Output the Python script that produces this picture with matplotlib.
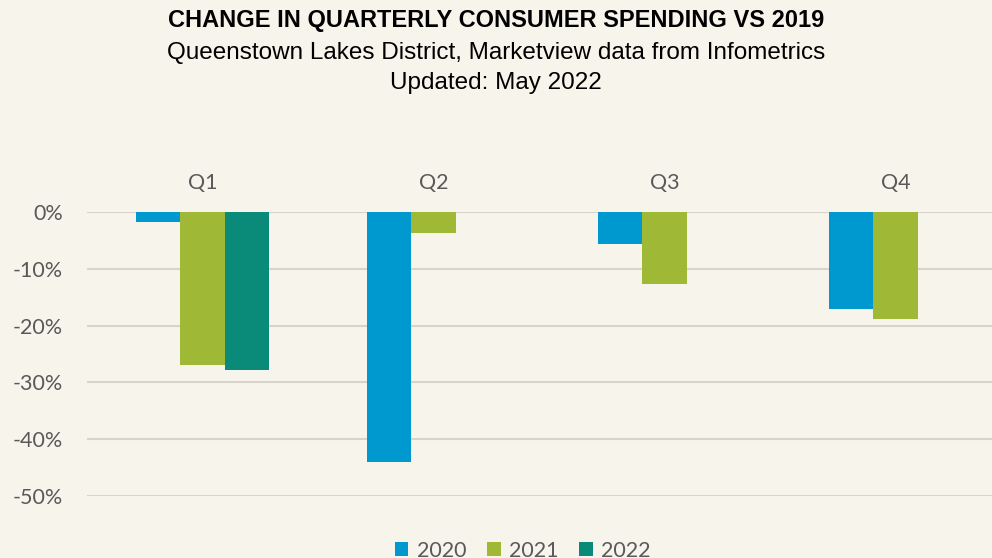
import numpy as np
import matplotlib.pyplot as plt
from matplotlib.ticker import FuncFormatter

quarters = ["Q1", "Q2", "Q3", "Q4"]
years = ["2020", "2021", "2022"]
chg_2020 = [-1.8, -44.0, -5.6, -17.1]
chg_2021 = [-27.0, -3.7, -12.7, -18.9]
chg_2022 = [-27.8, np.nan, np.nan, np.nan]

colors = ["#0099CF", "#9FB835", "#0A8A78"]
bg = "#F7F4EC"
grey = "#595959"

fig = plt.figure(figsize=(9.92, 5.58), dpi=100, facecolor=bg)
ax = fig.add_axes([87 / 992, 1 - 496 / 558, 924 / 992, (496 - 212) / 558])
ax.set_facecolor(bg)

x = np.arange(len(quarters))
w = 0.193
for i, (vals, yr) in enumerate(zip([chg_2020, chg_2021, chg_2022], years)):
    ax.bar(x + (i - 1) * w, vals, width=w, color=colors[i], label=yr, zorder=3)

ax.set_xlim(-0.5, 3.5)
ax.set_ylim(-50, 0)
ax.set_yticks(np.arange(-50, 1, 10))
ax.yaxis.set_major_formatter(FuncFormatter(lambda v, p: f"{v:.0f}%"))
ax.grid(axis="y", color="#D8D4CC", linewidth=1.5, zorder=0)
ax.set_axisbelow(True)
for s in ax.spines.values():
    s.set_visible(False)
ax.tick_params(axis="y", length=0, pad=17.5, labelsize=15.5, labelcolor=grey)
for lab in ax.get_yticklabels():
    lab.set_fontfamily("Lato")

ax.xaxis.tick_top()
ax.set_xticks(x)
ax.set_xticklabels(quarters, fontsize=15.5, color=grey, fontfamily="Lato")
ax.tick_params(axis="x", length=0, pad=14)

fig.text(0.5, 1 - 21 / 558, "CHANGE IN QUARTERLY CONSUMER SPENDING VS 2019",
         ha="center", va="center", fontsize=17, fontweight="bold",
         fontfamily="Liberation Sans", color="black")
fig.text(0.5, 1 - 53 / 558, "Queenstown Lakes District, Marketview data from Infometrics",
         ha="center", va="center", fontsize=17.5, fontfamily="Liberation Sans", color="black")
fig.text(0.5, 1 - 83 / 558, "Updated: May 2022",
         ha="center", va="center", fontsize=17.5, fontfamily="Liberation Sans", color="black")

leg = fig.legend(loc="center", bbox_to_anchor=(0.527, 1 - 551 / 558), ncol=3, frameon=False,
                 prop={"family": "Lato", "size": 15.5}, handlelength=0.63, handleheight=0.63,
                 handletextpad=0.4, columnspacing=0.95)
for t in leg.get_texts():
    t.set_color(grey)

fig.savefig("out.png", dpi=100, facecolor=bg)
